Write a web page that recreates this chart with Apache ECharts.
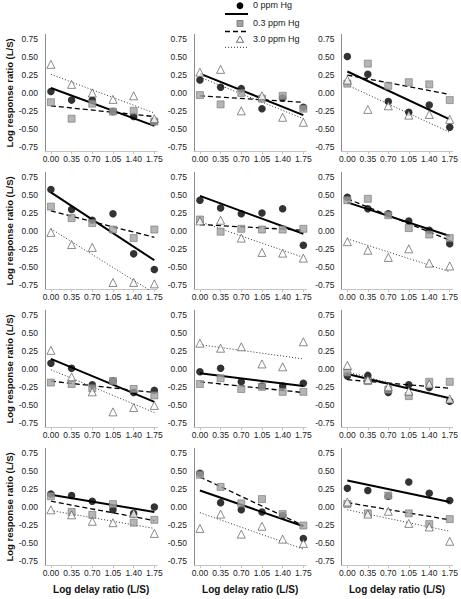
<!DOCTYPE html>
<html>
<head>
<meta charset="utf-8">
<script src="https://cdn.jsdelivr.net/npm/echarts@6/dist/echarts.min.js"></script>
<style>
html,body{margin:0;padding:0;background:#fff;}
#c{width:461px;height:599px;}
</style>
</head>
<body>
<div id="c"></div>
<script>
// ---- data ----
const xValues = [0, 0.35, 0.70, 1.05, 1.40, 1.75];
const xTicks = [0, 0.35, 0.70, 1.05, 1.40, 1.75];
const yTicks = [-0.75, -0.50, -0.25, 0, 0.25, 0.50, 0.75];
const seriesNames = ['0 ppm Hg', '0.3 ppm Hg', '3.0 ppm Hg'];

// panel order: row by row, left to right
const hg0 = [
  [0.02, -0.10, -0.10, -0.26, -0.33, -0.40],
  [0.18, 0.08, 0.06, -0.22, -0.07, -0.20],
  [0.51, 0.26, -0.12, -0.27, -0.17, -0.48],
  [0.58, 0.30, 0.15, 0.24, -0.32, -0.54],
  [0.43, 0.32, 0.24, 0.25, 0.31, -0.20],
  [0.47, 0.31, 0.24, 0.14, 0.01, -0.18],
  [0.08, 0.01, -0.22, -0.17, -0.33, -0.30],
  [-0.04, 0.01, -0.18, -0.24, -0.24, -0.20],
  [-0.10, -0.09, -0.33, -0.22, -0.26, -0.45],
  [0.18, 0.16, 0.08, -0.04, -0.09, 0.00],
  [0.47, 0.06, -0.04, -0.07, -0.12, -0.44],
  [0.26, 0.23, 0.15, 0.35, 0.19, 0.09]
];
const hg03 = [
  [-0.13, -0.36, -0.15, -0.26, -0.25, -0.40],
  [-0.03, -0.16, 0.00, -0.08, -0.04, -0.22],
  [0.13, 0.41, 0.10, 0.15, 0.12, -0.10],
  [0.34, 0.18, 0.11, 0.02, -0.10, 0.02],
  [0.16, -0.01, 0.03, 0.02, 0.02, 0.03],
  [0.43, 0.45, 0.22, 0.04, -0.05, -0.10],
  [-0.19, -0.21, -0.27, -0.17, -0.28, -0.37],
  [-0.21, -0.13, -0.28, -0.25, -0.32, -0.32],
  [-0.05, -0.17, -0.29, -0.38, -0.18, -0.18],
  [0.15, -0.07, -0.11, 0.04, -0.22, -0.18],
  [0.45, 0.28, 0.05, 0.11, -0.10, -0.26],
  [0.04, -0.09, 0.16, -0.09, -0.24, -0.17]
];
const hg3 = [
  [0.40, 0.12, 0.00, -0.09, -0.04, -0.36],
  [0.29, 0.33, -0.25, -0.04, -0.34, -0.41],
  [0.18, -0.23, -0.18, -0.31, -0.30, -0.37],
  [-0.02, -0.19, -0.23, -0.72, -0.72, -0.74],
  [0.14, 0.15, -0.10, -0.30, -0.31, -0.38],
  [-0.15, -0.27, -0.37, -0.25, -0.45, -0.49],
  [0.26, -0.11, -0.32, -0.60, -0.54, -0.51],
  [0.36, 0.29, 0.31, 0.07, 0.03, 0.38],
  [0.05, -0.15, -0.25, -0.31, -0.21, -0.42],
  [-0.04, -0.11, -0.20, -0.22, -0.09, -0.37],
  [-0.30, -0.10, -0.38, -0.27, -0.45, -0.51],
  [0.07, -0.10, -0.06, -0.23, -0.28, -0.48]
];
// fitted lines: value at x = 0 and at x = 1.75
const fitX = [0, 1.75];
const fit0 = [
  [0.07, -0.46], [0.27, -0.31], [0.30, -0.37],
  [0.54, -0.41], [0.49, -0.04], [0.40, -0.07],
  [0.14, -0.46], [-0.06, -0.24], [-0.07, -0.41],
  [0.17, -0.07], [0.23, -0.27], [0.37, 0.07]
];
const fit03 = [
  [-0.18, -0.33], [-0.04, -0.13], [0.25, -0.02],
  [0.28, -0.09], [0.09, 0.01], [0.45, -0.13],
  [-0.17, -0.33], [-0.18, -0.33], [-0.15, -0.27],
  [0.08, -0.19], [0.42, -0.26], [0.06, -0.18]
];
const fit3 = [
  [0.26, -0.28], [0.22, -0.36], [0.11, -0.55],
  [0.03, -0.87], [0.13, -0.37], [-0.11, -0.57],
  [-0.01, -0.61], [0.34, 0.14], [-0.04, -0.42],
  [-0.05, -0.30], [-0.08, -0.59], [-0.04, -0.34]
];

// ---- layout / style ----
const FONT = 'Liberation Sans, Arial, Helvetica, sans-serif';
const colLeft = [45, 194, 341.5];
const rowTop = [34.3, 172.3, 310.3, 448.3];
const gridW = 112.3, gridH = 117.3;
const X_MIN = -0.1, X_MAX = 1.8, Y_MIN = -0.82, Y_MAX = 0.82;

const grids = [], xAxes = [], yAxes = [], series = [];
const pts = (ys) => xValues.map((x, i) => [x, ys[i]]);
const fitPts = (f) => fitX.map((x, i) => [x, f[i]]);

const circleStyle = { color: '#000' };
const squareStyle = { color: '#a3a3a3', borderColor: '#747474', borderWidth: 0.8 };
const triStyle = { color: '#fff', borderColor: '#4a4a4a', borderWidth: 0.8 };

for (let p = 0; p < 12; p++) {
  const r = Math.floor(p / 3), c = p % 3;
  grids.push({ left: colLeft[c], top: rowTop[r], width: gridW, height: gridH });
  xAxes.push({
    type: 'value', gridIndex: p, min: X_MIN, max: X_MAX,
    name: r === 3 ? 'Log delay ratio (L/S)' : '',
    nameLocation: 'middle', nameGap: 19,
    nameTextStyle: { fontFamily: FONT, fontSize: 10, fontWeight: 'bold', color: '#111' },
    axisLine: { show: true, onZero: false, lineStyle: { color: '#c4c4c4', width: 1 } },
    axisTick: { show: true, customValues: xTicks, length: 2.5, lineStyle: { color: '#c4c4c4' } },
    axisLabel: { show: true, customValues: xTicks, margin: 3, fontFamily: FONT, fontSize: 8.5, color: '#222',
                 formatter: v => v.toFixed(2) },
    splitLine: { show: false }
  });
  yAxes.push({
    type: 'value', gridIndex: p, min: Y_MIN, max: Y_MAX,
    name: c === 0 ? 'Log response ratio (L/S)' : '',
    nameLocation: 'middle', nameGap: 28,
    nameTextStyle: { fontFamily: FONT, fontSize: 9.5, fontWeight: 'bold', color: '#111' },
    axisLine: { show: true, onZero: false, lineStyle: { color: '#8a8a8a', width: 1 } },
    axisTick: { show: false },
    axisLabel: { show: true, customValues: yTicks, margin: 7, fontFamily: FONT, fontSize: 8.5, color: '#222',
                 formatter: v => v.toFixed(2) },
    splitLine: { show: false }
  });
  series.push({ type: 'line', xAxisIndex: p, yAxisIndex: p, data: fitPts(fit0[p]), symbol: 'none', clip: true,
    lineStyle: { color: '#000', width: 2 }, silent: true, z: 2 });
  series.push({ type: 'line', xAxisIndex: p, yAxisIndex: p, data: fitPts(fit03[p]), symbol: 'none', clip: true,
    lineStyle: { color: '#000', width: 1.3, type: [5, 3] }, silent: true, z: 2 });
  series.push({ type: 'line', xAxisIndex: p, yAxisIndex: p, data: fitPts(fit3[p]), symbol: 'none', clip: true,
    lineStyle: { color: '#333', width: 1, type: [1, 2] }, silent: true, z: 2 });
  series.push({ type: 'scatter', name: seriesNames[0], xAxisIndex: p, yAxisIndex: p, data: pts(hg0[p]),
    symbol: 'circle', symbolSize: 7.5, itemStyle: circleStyle, z: 3 });
  series.push({ type: 'scatter', name: seriesNames[1], xAxisIndex: p, yAxisIndex: p, data: pts(hg03[p]),
    symbol: 'rect', symbolSize: 7, itemStyle: squareStyle, z: 4 });
  series.push({ type: 'scatter', name: seriesNames[2], xAxisIndex: p, yAxisIndex: p, data: pts(hg3[p]),
    symbol: 'triangle', symbolSize: 8, itemStyle: triStyle, z: 5 });
}

// legend drawn as graphic (marker above line sample)
const legendText = (t, y) => ({ type: 'text', left: 253, top: y - 5.5,
  style: { text: t, fontFamily: FONT, fontSize: 9, fill: '#222' } });
const graphic = [
  { type: 'circle', shape: { cx: 240, cy: 5.7, r: 3.4 }, style: { fill: '#000' } },
  { type: 'line', shape: { x1: 225, y1: 14, x2: 248, y2: 14 }, style: { stroke: '#000', lineWidth: 2 } },
  legendText(seriesNames[0], 5.7),
  { type: 'rect', shape: { x: 237, y: 20.5, width: 6, height: 6 }, style: { fill: '#a3a3a3', stroke: '#747474', lineWidth: 0.8 } },
  { type: 'line', shape: { x1: 225, y1: 31.5, x2: 248, y2: 31.5 }, style: { stroke: '#000', lineWidth: 1.3, lineDash: [5, 3] } },
  legendText(seriesNames[1], 23.5),
  { type: 'polygon', shape: { points: [[240, 36], [243.6, 42.3], [236.4, 42.3]] }, style: { fill: '#fff', stroke: '#4a4a4a', lineWidth: 0.8 } },
  { type: 'line', shape: { x1: 225, y1: 47.3, x2: 248, y2: 47.3 }, style: { stroke: '#333', lineWidth: 1, lineDash: [1, 2] } },
  legendText(seriesNames[2], 39.8)
];

const chart = echarts.init(document.getElementById('c'), null, { renderer: 'svg', width: 461, height: 599 });
chart.setOption({
  backgroundColor: '#fff',
  animation: false,
  grid: grids,
  xAxis: xAxes,
  yAxis: yAxes,
  series: series,
  graphic: graphic
});
</script>
</body>
</html>
